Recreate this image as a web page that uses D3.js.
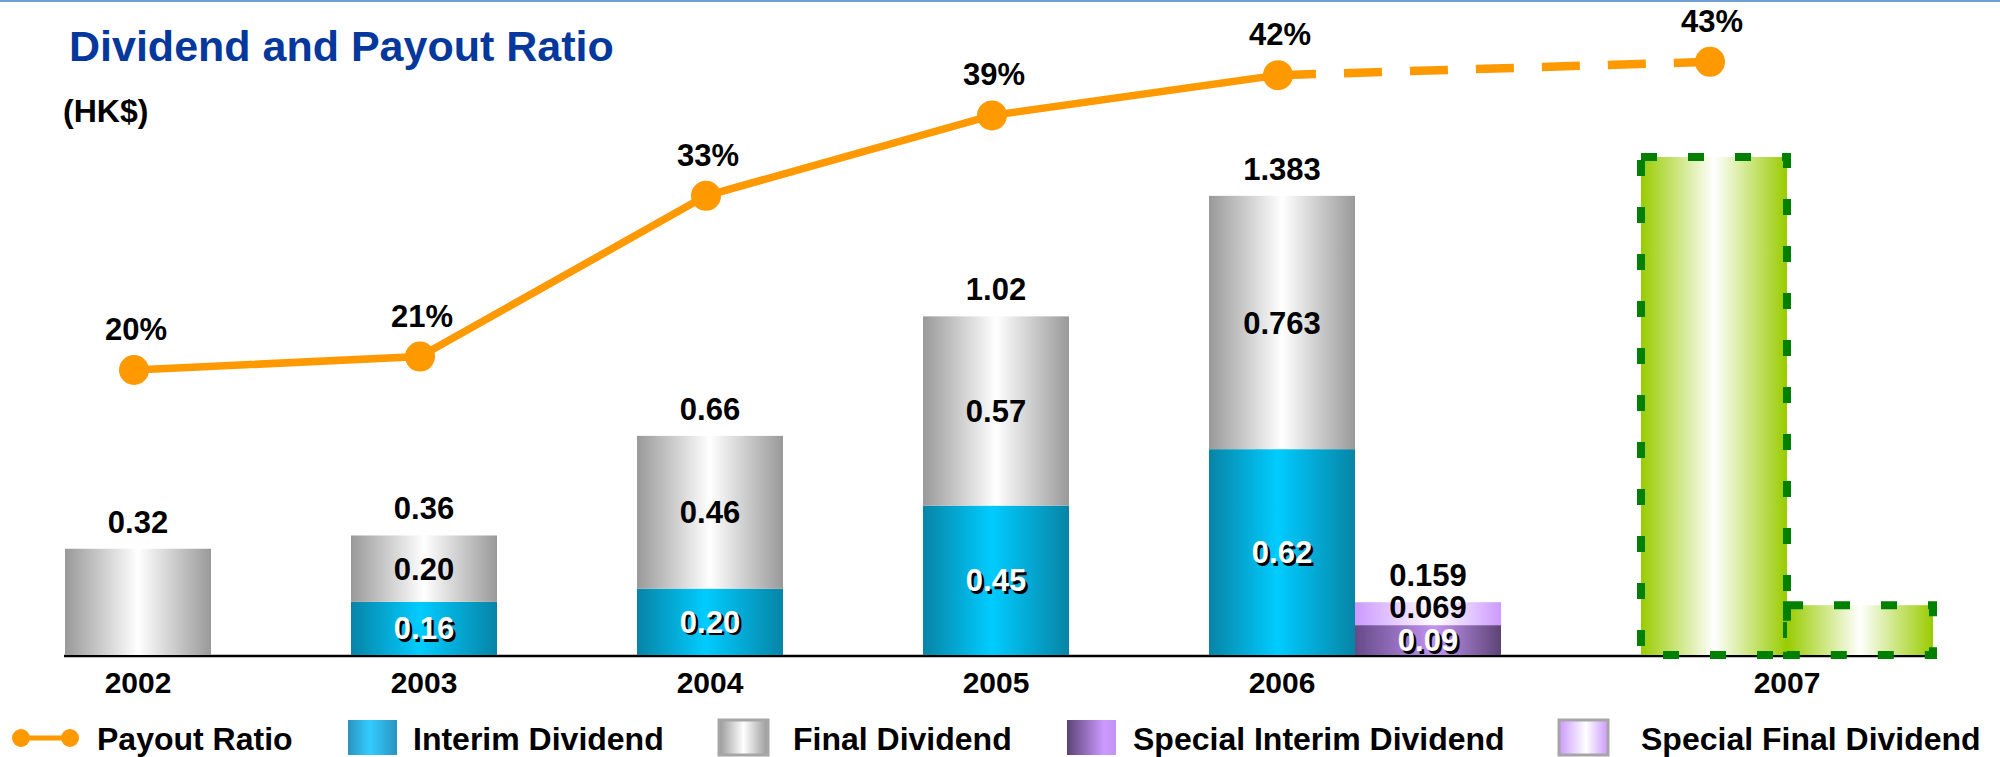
<!DOCTYPE html>
<html>
<head>
<meta charset="utf-8">
<script src="https://cdn.jsdelivr.net/npm/d3@7/dist/d3.min.js"></script>
<style>
  html, body { margin: 0; padding: 0; background: #fff; }
  svg { display: block; }
  text { font-family: "Liberation Sans", Arial, sans-serif; font-weight: bold; }
</style>
</head>
<body>
<svg id="chart" width="2000" height="757"></svg>
<script>
// ---- data (HK$ per share, payout ratio in %) ----
const years = ["2002", "2003", "2004", "2005", "2006", "2007"];
const interimDividend = [null, 0.16, 0.20, 0.45, 0.62, null];
const finalDividend = [0.32, 0.20, 0.46, 0.57, 0.763, null];
const specialInterimDividend = [null, null, null, null, 0.09, null];
const specialFinalDividend = [null, null, null, null, 0.069, null];
const forecastYear = "2007";
const forecastBars = [1.50, 0.15]; // regular and special outlook bars, unlabelled
const payoutRatio = [20, 21, 33, 39, 42, 43];
const legendLabels = ["Payout Ratio", "Interim Dividend", "Final Dividend", "Special Interim Dividend", "Special Final Dividend"];

const svg = d3.select("#chart");
const defs = svg.append("defs");

function hGrad(id, stops) {
  const g = defs.append("linearGradient").attr("id", id)
    .attr("x1", 0).attr("y1", 0).attr("x2", 1).attr("y2", 0);
  stops.forEach(([o, c]) => g.append("stop").attr("offset", o).attr("stop-color", c));
}
hGrad("gInterim", [[0, "#0784a6"], [0.47, "#00ccff"], [1, "#0784a6"]]);
hGrad("gFinal", [[0, "#999999"], [0.5, "#ffffff"], [1, "#999999"]]);
hGrad("gSpInterim", [[0, "#654a88"], [0.55, "#c393f2"], [1, "#5d4476"]]);
hGrad("gSpFinal", [[0, "#cc99ff"], [0.55, "#ffffff"], [1, "#cc99ff"]]);
hGrad("gForecast", [[0, "#99cc00"], [0.5, "#ffffff"], [1, "#99cc00"]]);
hGrad("gLegInterim", [[0, "#2a94c0"], [0.45, "#33ccff"], [1, "#2a94c0"]]);
hGrad("gLegSpInterim", [[0, "#5a4476"], [0.75, "#cc99ff"], [1, "#c493f5"]]);

// ---- scales ----
const baseY = 655;
const x = d3.scaleBand().domain(years).range([65, 1641]).paddingInner(140 / 286).paddingOuter(0);
const bw = x.bandwidth();
const y = d3.scaleLinear().domain([0, 1.6]).range([baseY, baseY - 1.6 * 332]);
const yPct = d3.scaleLinear().domain([0, 50]).range([638, -32]);

const slotX = (yr, k) => x(yr) + k * bw;
const firstSlot = yr => (yr === forecastYear ? 1 : 0);

const fmt = v => {
  let s = v.toFixed(3);
  if (s.endsWith("0")) s = s.slice(0, -1);
  return s;
};

// ---- header ----
svg.append("line").attr("x1", 0).attr("x2", 2000).attr("y1", 1).attr("y2", 1)
  .attr("stroke", "#6f9fd0").attr("stroke-width", 2);
svg.append("text").attr("x", 69).attr("y", 61).attr("font-size", 43)
  .attr("fill", "#05389c").text("Dividend and Payout Ratio");
svg.append("text").attr("x", 63).attr("y", 122).attr("font-size", 32)
  .attr("fill", "#000").text("(HK$)");

// ---- baseline ----
svg.append("line").attr("x1", 64).attr("x2", 1928).attr("y1", baseY + 1).attr("y2", baseY + 1)
  .attr("stroke", "#000").attr("stroke-width", 2.5);

// ---- stacked bars ----
const segs = [];
const totals = [];
function stack(xPos, parts) {
  let acc = 0;
  const items = parts.filter(p => p[0] != null);
  items.forEach(([v, fill, light]) => {
    segs.push({ x: xPos, y0: acc, y1: acc + v, fill, light, v, labelled: items.length > 1 });
    acc += v;
  });
  if (items.length) totals.push({ x: xPos + bw / 2, v: acc });
}
years.forEach((yr, i) => {
  if (yr === forecastYear) return;
  stack(slotX(yr, 0), [[interimDividend[i], "gInterim", true], [finalDividend[i], "gFinal", false]]);
  stack(slotX(yr, 1), [[specialInterimDividend[i], "gSpInterim", true], [specialFinalDividend[i], "gSpFinal", false]]);
});

svg.append("g").selectAll("rect").data(segs).join("rect")
  .attr("x", d => d.x).attr("width", bw)
  .attr("y", d => y(d.y1)).attr("height", d => y(d.y0) - y(d.y1))
  .attr("fill", d => `url(#${d.fill})`);

// outlook bars for the forecast year
svg.append("g").selectAll("rect").data(forecastBars).join("rect")
  .attr("x", (d, k) => slotX(forecastYear, k + 1)).attr("width", bw)
  .attr("y", d => y(d)).attr("height", d => y(0) - y(d))
  .attr("fill", "url(#gForecast)")
  .attr("stroke", "#008000").attr("stroke-width", 8).attr("stroke-dasharray", "16,31");

// segment labels (thin segments sit their label a little higher)
const segLab = svg.append("g").attr("font-size", 31).attr("text-anchor", "middle");
segs.filter(d => d.labelled).forEach(d => {
  const h = y(d.y0) - y(d.y1);
  const cx = d.x + bw / 2, cy = (y(d.y0) + y(d.y1)) / 2 + (h < 25 ? 4 : 11);
  if (d.light) {
    segLab.append("text").attr("x", cx + 2.5).attr("y", cy + 2.5).attr("fill", "#000").text(fmt(d.v));
    segLab.append("text").attr("x", cx).attr("y", cy).attr("fill", "#fff").text(fmt(d.v));
  } else {
    segLab.append("text").attr("x", cx).attr("y", cy).attr("fill", "#000").text(fmt(d.v));
  }
});
// totals above each stack
segLab.selectAll(".tot").data(totals).join("text").attr("class", "tot")
  .attr("x", d => d.x).attr("y", d => y(d.v) - 16).attr("fill", "#000")
  .text(d => fmt(d.v));

// ---- category labels ----
svg.append("g").attr("font-size", 30).attr("text-anchor", "middle")
  .selectAll("text").data(years).join("text")
  .attr("x", yr => yr === forecastYear ? slotX(yr, 2) : slotX(yr, 0) + bw / 2)
  .attr("y", 693).attr("fill", "#000").text(yr => yr);

// ---- payout ratio line ----
const pts = years.map((yr, i) => ({ x: slotX(yr, firstSlot(yr)) + bw / 2 - 4, y: yPct(payoutRatio[i]), v: payoutRatio[i], yr }));
const line = d3.line().x(d => d.x).y(d => d.y);
const fi = years.indexOf(forecastYear);
svg.append("path").attr("d", line(pts.slice(0, fi))).attr("fill", "none")
  .attr("stroke", "#ff9900").attr("stroke-width", 7.5);
svg.append("path").attr("d", line(pts.slice(fi - 1, fi + 1))).attr("fill", "none")
  .attr("stroke", "#ff9900").attr("stroke-width", 8.5).attr("stroke-dasharray", "38,28");
svg.append("g").selectAll("circle").data(pts).join("circle")
  .attr("cx", d => d.x).attr("cy", d => d.y).attr("r", 15).attr("fill", "#ff9900");
svg.append("g").attr("font-size", 31).attr("text-anchor", "middle")
  .selectAll("text").data(pts).join("text")
  .attr("x", d => d.x + 2).attr("y", d => d.y - 30).attr("fill", "#000").text(d => d.v + "%");

// ---- legend ----
const leg = svg.append("g").attr("font-size", 32);
const legY = 738;
leg.append("line").attr("x1", 21).attr("x2", 70).attr("y1", legY).attr("y2", legY)
  .attr("stroke", "#ff9900").attr("stroke-width", 5);
[21, 70].forEach(cx => leg.append("circle").attr("cx", cx).attr("cy", legY).attr("r", 9).attr("fill", "#ff9900"));
const swatches = [
  { x: 348, fill: "url(#gLegInterim)", border: null },
  { x: 719, fill: "url(#gFinal)", border: "#a6a6a6" },
  { x: 1067, fill: "url(#gLegSpInterim)", border: null },
  { x: 1559, fill: "url(#gSpFinal)", border: "#a6a6a6" }
];
swatches.forEach(s => {
  leg.append("rect").attr("x", s.x).attr("y", 720).attr("width", 49).attr("height", 35)
    .attr("fill", s.fill)
    .attr("stroke", s.border || "none").attr("stroke-width", s.border ? 3 : 0);
});
const legTextX = [97, 413, 793, 1133, 1641];
legendLabels.forEach((t, i) => {
  leg.append("text").attr("x", legTextX[i]).attr("y", 750).attr("fill", "#000").text(t);
});
</script>
</body>
</html>
